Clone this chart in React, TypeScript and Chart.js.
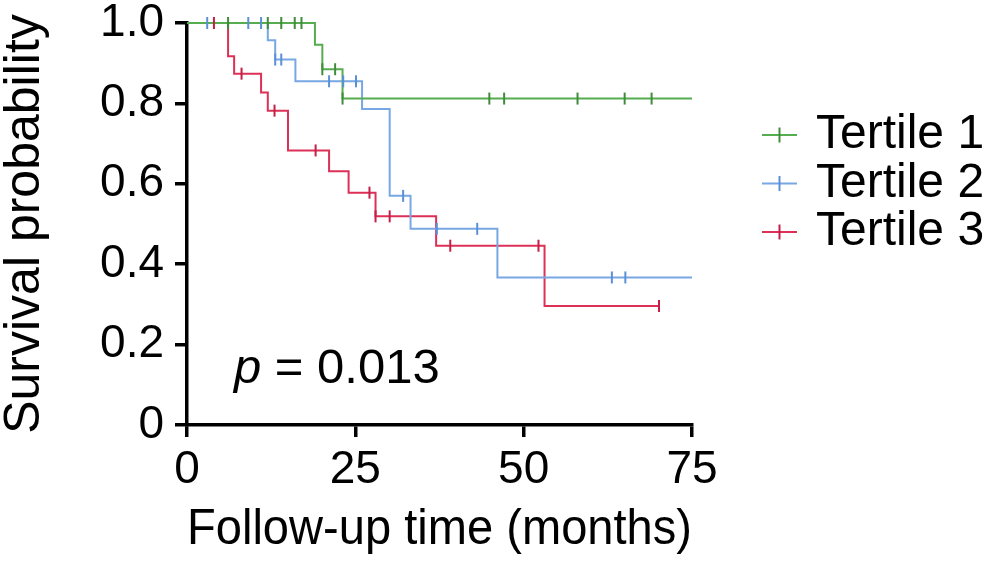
import { useEffect, useRef } from 'react'
import { Chart, registerables } from 'chart.js'

Chart.register(...registerables)

const FONT = '"Liberation Sans", Arial, sans-serif'

// Kaplan-Meier steps (months, survival)
const t1Times = [0, 19.0, 20.1, 23.1, 75]
const t1Surv = [1, 0.946, 0.885, 0.812, 0.812]
const t1Censor = [6.1, 12.0, 14.0, 16.0, 17.0, 20.1, 22.0, 23.1, 44.9, 47.1, 58.0, 65.0, 69.0]

const t2Times = [0, 12.0, 13.1, 16.1, 26.0, 30.1, 33.2, 46.1, 75]
const t2Surv = [1, 0.957, 0.909, 0.855, 0.786, 0.57, 0.488, 0.367, 0.367]
const t2Censor = [3.0, 9.1, 11.0, 13.1, 14.0, 21.1, 23.2, 25.1, 32.1, 37.1, 43.1, 63.1, 65.1]

const t3Times = [0, 6.1, 7.0, 11.0, 12.0, 15.0, 21.1, 24.0, 28.0, 37.0, 53.1, 70.1]
const t3Surv = [1, 0.917, 0.874, 0.827, 0.782, 0.683, 0.631, 0.578, 0.519, 0.446, 0.296, 0.296]
const t3Censor = [4.0, 8.1, 13.0, 19.1, 27.1, 28.0, 30.1, 39.1, 52.2, 70.1]

const groupNames = ['Tertile 1', 'Tertile 2', 'Tertile 3']
const lineColors = ['#55ad4f', '#78a8e4', '#dd3057']
const markColors = ['#3f8c3a', '#5b90d8', '#c41f47']

const xTicks = [0, 25, 50, 75]
const yTicks = [0, 0.2, 0.4, 0.6, 0.8, 1.0]
const pText = '0.013'

// survival level at time t (right-continuous)
function survAt(times: number[], surv: number[], t: number) {
  let s = 1
  for (let i = 0; i < times.length; i++) if (times[i] <= t + 1e-9) s = surv[i]
  return s
}

const groups = [
  { times: t1Times, surv: t1Surv, censor: t1Censor },
  { times: t2Times, surv: t2Surv, censor: t2Censor },
  { times: t3Times, surv: t3Surv, censor: t3Censor },
]

// legend + p value drawn on the canvas
const extras = {
  id: 'kmExtras',
  afterDraw(chart: any) {
    const { ctx, chartArea } = chart
    ctx.save()
    groupNames.forEach((name, i) => {
      const y = chartArea.top + 112 + i * 48.5
      const x0 = chartArea.right + 70
      ctx.strokeStyle = lineColors[i]
      ctx.lineWidth = 2
      ctx.beginPath()
      ctx.moveTo(x0, y)
      ctx.lineTo(x0 + 35, y)
      ctx.stroke()
      ctx.strokeStyle = markColors[i]
      ctx.beginPath()
      ctx.moveTo(x0 + 17.5, y - 7.5)
      ctx.lineTo(x0 + 17.5, y + 7.5)
      ctx.stroke()
      ctx.fillStyle = '#000'
      ctx.font = `48px ${FONT}`
      ctx.textAlign = 'left'
      ctx.textBaseline = 'middle'
      ctx.fillText(name, chartArea.right + 124, y)
    })
    // p value
    const px = chartArea.left + 47
    const py = chartArea.bottom - 42
    ctx.textBaseline = 'alphabetic'
    ctx.fillStyle = '#000'
    ctx.font = `italic 49px ${FONT}`
    ctx.fillText('p', px, py)
    const w = ctx.measureText('p').width
    ctx.font = `49px ${FONT}`
    ctx.fillText(' = ' + pText, px + w, py)
    ctx.restore()
  },
}

export default function App() {
  const canvasRef = useRef<HTMLCanvasElement>(null)
  const chartRef = useRef<Chart | null>(null)

  useEffect(() => {
    document.body.style.margin = '0'
    if (!canvasRef.current) return
    const ctx = canvasRef.current.getContext('2d')
    if (!ctx) return

    chartRef.current?.destroy()

    const lineSets = groups.map((g, i) => ({
      type: 'line',
      label: groupNames[i],
      data: g.times.map((t, j) => ({ x: t, y: g.surv[j] })),
      borderColor: lineColors[i],
      borderWidth: 2,
      stepped: 'before',
      pointRadius: 0,
      fill: false,
      clip: false,
      order: 2,
    }))
    const censorSets = groups.map((g, i) => ({
      type: 'scatter',
      label: groupNames[i] + ' censored',
      data: g.censor.map(t => ({ x: t, y: survAt(g.times, g.surv, t) })),
      pointStyle: 'line',
      rotation: 90,
      pointRadius: 6,
      pointBorderWidth: 2,
      borderColor: markColors[i],
      backgroundColor: markColors[i],
      showLine: false,
      clip: false,
      order: 1,
    }))

    const axisFont = { family: FONT, size: 46 }
    const titleFont = { family: FONT, size: 50, lineHeight: 1 }

    chartRef.current = new Chart(ctx, {
      type: 'line',
      data: { datasets: [...lineSets, ...censorSets] },
      options: {
        animation: false,
        responsive: false,
        layout: { padding: { top: 23, right: 299, left: 0, bottom: 0 } },
        plugins: { legend: { display: false }, tooltip: { enabled: false } },
        scales: {
          x: {
            type: 'linear',
            min: 0,
            max: 75,
            afterBuildTicks: (s: any) => { s.ticks = xTicks.map(v => ({ value: v })) },
            afterFit: (s: any) => {
              s.height = 138
              s.paddingLeft = 0
              s.paddingRight = 0
            },
            ticks: { color: '#000', font: axisFont, padding: 6, maxRotation: 0 },
            grid: { drawOnChartArea: false, drawTicks: true, tickLength: 12, color: '#000', lineWidth: 3.5 },
            border: { display: true, color: '#000', width: 3.5 },
            title: {
              display: true,
              text: 'Follow-up time (months)',
              color: '#000',
              font: titleFont,
              padding: { top: 0, bottom: 8 },
            },
          },
          y: {
            type: 'linear',
            min: 0,
            max: 1,
            afterBuildTicks: (s: any) => { s.ticks = yTicks.map(v => ({ value: v })) },
            afterFit: (s: any) => {
              s.width = 187
              s.paddingTop = 0
              s.paddingBottom = 0
            },
            ticks: {
              color: '#000',
              font: axisFont,
              padding: 11,
              callback: (v: any) => (v === 0 ? '0' : Number(v).toFixed(1)),
            },
            grid: { drawOnChartArea: false, drawTicks: true, tickLength: 12, color: '#000', lineWidth: 3.5 },
            border: { display: true, color: '#000', width: 3.5 },
            title: {
              display: true,
              text: 'Survival probability',
              color: '#000',
              font: titleFont,
              padding: 0,
            },
          },
        },
      },
      plugins: [extras],
    } as any)

    return () => {
      chartRef.current?.destroy()
      chartRef.current = null
    }
  }, [])

  return (
    <div style={{ width: 991, height: 563, background: '#fff' }}>
      <canvas ref={canvasRef} width={991} height={563} role="img" aria-label="Kaplan-Meier survival by tertile" />
    </div>
  )
}
